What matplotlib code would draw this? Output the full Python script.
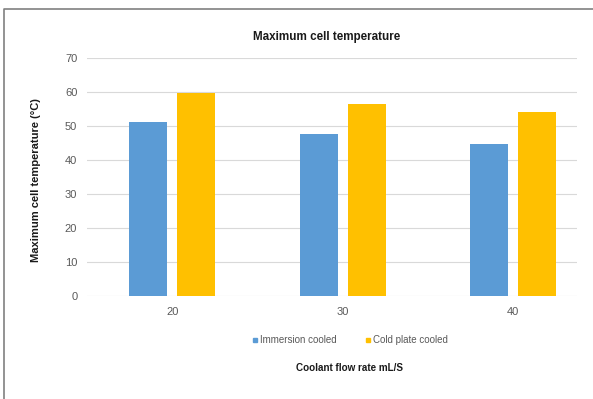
import matplotlib
matplotlib.use("Agg")
import matplotlib.pyplot as plt
import numpy as np
from matplotlib.lines import Line2D

flow_rates = ["20", "30", "40"]
immersion = [51.3, 47.6, 44.7]
cold_plate = [59.6, 56.5, 54.1]
y_ticks = [0, 10, 20, 30, 40, 50, 60, 70]

blue = "#5B9BD5"
gold = "#FFC000"

plt.rcParams["font.family"] = ["Liberation Sans", "DejaVu Sans"]

fig = plt.figure(figsize=(5.93, 3.99), dpi=100)
ax = fig.add_axes([87 / 593, 103 / 399, 490 / 593, 238 / 399])

x = np.arange(len(flow_rates))
w = 0.223
off = 0.141
ax.bar(x - off, immersion, w, color=blue, zorder=2)
ax.bar(x + off, cold_plate, w, color=gold, zorder=2)

ax.set_xlim(-0.5, 2.375)
ax.set_ylim(0, 70)
ax.set_yticks(y_ticks)
ax.set_xticks(x)
ax.set_xticklabels(flow_rates)
ax.tick_params(length=0, labelsize=8, labelcolor="#595959")
ax.tick_params(axis="y", pad=7)
ax.tick_params(axis="x", pad=8)
ax.grid(axis="y", color="#D9D9D9", lw=0.8, zorder=0)
for s in ax.spines.values():
    s.set_visible(False)

fig.text(327 / 593, 1 - 37 / 399, "Maximum cell temperature", ha="center",
         va="center", fontsize=8.4, fontweight="bold", color="#1a1a1a")
fig.text(36 / 593, 1 - 180 / 399, "Maximum cell temperature (°C)", ha="center",
         va="center", rotation=90, fontsize=8, fontweight="bold", color="#1a1a1a")
fig.text(350 / 593, 1 - 368 / 399, "Coolant flow rate mL/S", ha="center",
         va="center", fontsize=7.1, fontweight="bold", color="#1a1a1a")

handles = [
    Line2D([], [], marker="s", ls="", color=blue, markersize=3.5),
    Line2D([], [], marker="s", ls="", color=gold, markersize=3.5),
]
fig.legend(handles, ["Immersion cooled", "Cold plate cooled"], loc="center",
           bbox_to_anchor=(350 / 593, 1 - 340 / 399), ncol=2, frameon=False,
           fontsize=7, handlelength=0.6, handletextpad=0.2, columnspacing=3.0,
           labelcolor="#595959")

# outer chart frame (top and left edges)
fig.add_artist(Line2D([4 / 593, 4 / 593, 1], [0, 1 - 9 / 399, 1 - 9 / 399],
                      transform=fig.transFigure, color="#808080", lw=1.2))

fig.savefig("out.png", dpi=100, facecolor="white")
